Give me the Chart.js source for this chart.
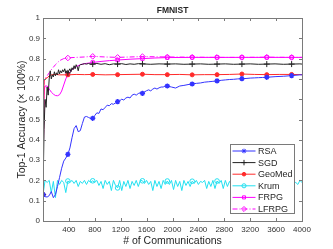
<!DOCTYPE html>
<html>
<head>
<meta charset="utf-8">
<script src="https://cdn.jsdelivr.net/npm/chart.js@4.4.1/dist/chart.umd.min.js"></script>
<style>
  html, body { margin: 0; padding: 0; background: #fff; }
  #wrap { width: 333px; height: 249px; }
</style>
</head>
<body>
<div id="wrap"><canvas id="accChart" width="333" height="249"></canvas></div>
<script>
// Tick labels
const xTicks = [400, 800, 1200, 1600, 2000, 2400, 2800, 3200, 3600, 4000];
const yTicks = [0, 0.1, 0.2, 0.3, 0.4, 0.5, 0.6, 0.7, 0.8, 0.9, 1];

// Communications where the markers sit
const markerX = [0, 384, 768, 1152, 1536, 1920, 2304, 2688, 3072, 3456, 3840];

// RSA
const rsaX = [0, 32, 64, 96, 128, 160, 192, 224, 256, 288, 320, 352, 384, 416, 448, 480, 512, 544, 576, 608,
  640, 672, 704, 736, 768, 800, 832, 864, 896, 928, 960, 992, 1024, 1056, 1088, 1120, 1152, 1184, 1216, 1248,
  1280, 1312, 1344, 1376, 1408, 1440, 1472, 1504, 1536, 1568, 1600, 1632, 1664, 1696, 1728, 1760, 1792, 1824,
  1856, 1888, 1920, 1984, 2048, 2112, 2176, 2240, 2304, 2368, 2432, 2496, 2560, 2624, 2688, 2752, 2816, 2880,
  2944, 3008, 3072, 3136, 3200, 3264, 3328, 3392, 3456, 3584, 3712, 3840, 3968, 4000];
const rsaY = [0.13, 0.12, 0.118, 0.125, 0.145, 0.115, 0.13, 0.17, 0.215, 0.26, 0.295, 0.31, 0.328, 0.36, 0.41, 0.455, 0.47, 0.44, 0.445, 0.48,
  0.512, 0.515, 0.51, 0.505, 0.506, 0.52, 0.533, 0.53, 0.552, 0.548, 0.56, 0.57, 0.568, 0.578, 0.575, 0.582, 0.588, 0.592, 0.6, 0.596,
  0.606, 0.61, 0.606, 0.62, 0.625, 0.62, 0.628, 0.632, 0.629, 0.636, 0.642, 0.646, 0.641, 0.65, 0.655, 0.65, 0.656, 0.66,
  0.66, 0.665, 0.665, 0.66, 0.655, 0.665, 0.668, 0.672, 0.675, 0.678, 0.68, 0.684, 0.686, 0.688, 0.69, 0.693, 0.695, 0.697,
  0.698, 0.7, 0.701, 0.702, 0.704, 0.705, 0.706, 0.707, 0.708, 0.711, 0.713, 0.716, 0.72, 0.72];

// SGD
const sgdX = [0, 16, 32, 48, 64, 80, 96, 112, 128, 144, 160, 176, 192, 208, 224, 240, 256, 272, 288, 304,
  320, 336, 352, 368, 384, 400, 416, 432, 448, 464, 480, 496, 512, 528, 544, 560, 576, 608, 640, 672,
  704, 736, 768, 832, 896, 960, 1024, 1088, 1152, 1216, 1280, 1344, 1408, 1472, 1536, 1664, 1792, 1920,
  2048, 2176, 2304, 2432, 2560, 2688, 2816, 2944, 3072, 3200, 3328, 3456, 3584, 3712, 3840, 3968, 4000];
const sgdY = [0.13, 0.45, 0.6, 0.56, 0.66, 0.62, 0.7, 0.74, 0.7, 0.72, 0.71, 0.735, 0.715, 0.73, 0.72, 0.745, 0.725, 0.74, 0.73, 0.745,
  0.735, 0.75, 0.73, 0.74, 0.73, 0.74, 0.75, 0.735, 0.755, 0.745, 0.765, 0.75, 0.77, 0.76, 0.74, 0.765, 0.77, 0.772, 0.775, 0.773,
  0.776, 0.772, 0.773, 0.776, 0.772, 0.775, 0.77, 0.774, 0.773, 0.775, 0.771, 0.774, 0.772, 0.775, 0.774, 0.772, 0.774, 0.773,
  0.774, 0.772, 0.773, 0.774, 0.772, 0.773, 0.774, 0.772, 0.773, 0.774, 0.772, 0.773, 0.774, 0.772, 0.773, 0.774, 0.773];

// GeoMed
const geoX = [0, 16, 32, 64, 96, 128, 192, 256, 384, 512, 640, 768, 960, 1152, 1344, 1536, 1728, 1920, 2112, 2304,
  2496, 2688, 2880, 3072, 3264, 3456, 3648, 3840, 4000];
const geoY = [0.13, 0.69, 0.7, 0.705, 0.715, 0.72, 0.722, 0.72, 0.72, 0.722, 0.721, 0.722, 0.72, 0.721, 0.722, 0.723, 0.721, 0.721, 0.722, 0.72,
  0.721, 0.721, 0.722, 0.724, 0.722, 0.721, 0.722, 0.722, 0.721];

// Krum, sampled every 32 communications from 0 to 4000
const krumY = [0.13, 0.2, 0.19, 0.2, 0.14, 0.195, 0.115, 0.2, 0.18, 0.2, 0.19, 0.14, 0.197, 0.19, 0.2, 0.185,
  0.2, 0.17, 0.195, 0.185, 0.2, 0.18, 0.2, 0.19, 0.198, 0.19, 0.2, 0.175, 0.195, 0.16, 0.2, 0.18,
  0.195, 0.15, 0.2, 0.175, 0.163, 0.2, 0.15, 0.195, 0.17, 0.2, 0.16, 0.195, 0.175, 0.2, 0.17, 0.2,
  0.198, 0.185, 0.2, 0.18, 0.195, 0.15, 0.2, 0.17, 0.195, 0.16, 0.2, 0.18, 0.197, 0.18, 0.2, 0.155,
  0.2, 0.17, 0.195, 0.15, 0.2, 0.175, 0.195, 0.17, 0.196, 0.185, 0.2, 0.18, 0.195, 0.19, 0.2, 0.16,
  0.195, 0.17, 0.2, 0.16, 0.197, 0.185, 0.2, 0.16, 0.2, 0.17, 0.195, 0.18, 0.2, 0.17, 0.195, 0.16,
  0.197, 0.18, 0.2, 0.17, 0.195, 0.16, 0.2, 0.18, 0.195, 0.17, 0.2, 0.165, 0.197, 0.18, 0.2, 0.17,
  0.195, 0.16, 0.2, 0.18, 0.195, 0.17, 0.2, 0.18, 0.196, 0.185, 0.19, 0.18, 0.2, 0.19];
const krumX = krumY.map((_, i) => i * 32);

// FRPG
const frpgX = [0, 16, 32, 64, 96, 128, 160, 192, 224, 256, 288, 320, 352, 384, 448, 512, 576, 640, 704, 768,
  896, 1024, 1152, 1344, 1536, 1728, 1920, 2304, 2688, 3072, 3456, 3840, 4000];
const frpgY = [0.13, 0.64, 0.665, 0.665, 0.65, 0.635, 0.625, 0.618, 0.617, 0.622, 0.64, 0.67, 0.7, 0.722, 0.745, 0.76, 0.77, 0.775, 0.778, 0.781,
  0.786, 0.79, 0.793, 0.797, 0.8, 0.803, 0.805, 0.806, 0.806, 0.806, 0.806, 0.806, 0.806];

// LFRPG
const lfrpgX = [0, 16, 32, 64, 96, 128, 192, 256, 320, 384, 448, 512, 640, 768, 960, 1152, 1536, 1920, 2304, 2688,
  3072, 3456, 3840, 4000];
const lfrpgY = [0.13, 0.69, 0.7, 0.715, 0.73, 0.745, 0.77, 0.79, 0.8, 0.803, 0.805, 0.806, 0.808, 0.811, 0.808, 0.806, 0.81, 0.808, 0.807, 0.806,
  0.806, 0.807, 0.806, 0.806];

const FONT = '"Liberation Sans", Arial, sans-serif';

const toPoints = (xs, ys) => xs.map((x, i) => ({ x, y: ys[i] }));
const atMarker = r => ctx => (ctx.raw && markerX.includes(ctx.raw.x) ? r : 0);

function series(label, xs, ys, color, style, r, extra) {
  return Object.assign({
    label,
    data: toPoints(xs, ys),
    borderColor: color,
    backgroundColor: 'rgba(0,0,0,0)',
    borderWidth: 1,
    tension: 0,
    pointStyle: style,
    markerSize: r,
    pointRadius: atMarker(r),
    pointBorderWidth: 1,
    pointBorderColor: color,
    pointBackgroundColor: 'rgba(0,0,0,0)'
  }, extra || {});
}

const datasets = [
  series('RSA', rsaX, rsaY, '#3333ff', 'star', 2.6, { pointBorderWidth: 1.4 }),
  series('SGD', sgdX, sgdY, '#222222', 'cross', 3),
  series('GeoMed', geoX, geoY, '#ff2a2a', 'circle', 2, { pointBackgroundColor: '#ff2a2a' }),
  series('Krum', krumX, krumY, '#22e0f0', 'circle', 2.3),
  series('FRPG', frpgX, frpgY, '#ff00ff', 'rect', 2.4),
  series('LFRPG', lfrpgX, lfrpgY, '#ff00ff', 'rectRot', 2.8, { borderDash: [5, 2, 1, 2] })
];

// Box round the plot with inward ticks, like the original figure
const frame = {
  id: 'frame',
  afterDatasetsDraw(chart) {
    const { ctx, chartArea: a, scales } = chart;
    ctx.save();
    ctx.strokeStyle = '#7a7a7a';
    ctx.lineWidth = 1;
    ctx.strokeRect(Math.round(a.left) + 0.5, Math.round(a.top) + 0.5,
      Math.round(a.right - a.left), Math.round(a.bottom - a.top));
    ctx.beginPath();
    xTicks.forEach(v => {
      const px = Math.round(scales.x.getPixelForValue(v)) + 0.5;
      ctx.moveTo(px, a.bottom); ctx.lineTo(px, a.bottom - 3);
      ctx.moveTo(px, a.top); ctx.lineTo(px, a.top + 3);
    });
    yTicks.forEach(v => {
      const py = Math.round(scales.y.getPixelForValue(v)) + 0.5;
      ctx.moveTo(a.left, py); ctx.lineTo(a.left + 3, py);
      ctx.moveTo(a.right, py); ctx.lineTo(a.right - 3, py);
    });
    ctx.stroke();
    ctx.restore();
  }
};

// Legend drawn inside the plot, bottom right
const insideLegend = {
  id: 'insideLegend',
  afterDraw(chart) {
    const { ctx, chartArea: a } = chart;
    const w = 64, h = 69;
    const x0 = Math.round(a.right - 8 - w) + 0.5;
    const y0 = Math.round(a.bottom - 8 - h) + 0.5;
    ctx.save();
    ctx.fillStyle = '#ffffff';
    ctx.fillRect(x0, y0, w, h);
    ctx.strokeStyle = '#7a7a7a';
    ctx.lineWidth = 1;
    ctx.strokeRect(x0, y0, w, h);
    ctx.font = '9px ' + FONT;
    ctx.textBaseline = 'middle';
    chart.data.datasets.forEach((ds, i) => {
      const y = y0 + 6.5 + i * 11.6;
      ctx.strokeStyle = ds.borderColor;
      ctx.lineWidth = 1;
      ctx.setLineDash(ds.borderDash || []);
      ctx.beginPath();
      ctx.moveTo(x0 + 2, y); ctx.lineTo(x0 + 25, y);
      ctx.stroke();
      ctx.setLineDash([]);
      ctx.fillStyle = ds.pointBackgroundColor;
      Chart.helpers.drawPoint(ctx, {
        pointStyle: ds.pointStyle, radius: ds.markerSize * 0.9, rotation: 0, borderWidth: ds.pointBorderWidth
      }, x0 + 13.5, y);
      ctx.fillStyle = '#262626';
      ctx.fillText(ds.label, x0 + 27.5, y + 0.5);
    });
    ctx.restore();
  }
};

new Chart(document.getElementById('accChart'), {
  type: 'line',
  data: { datasets },
  plugins: [frame, insideLegend],
  options: {
    responsive: false,
    animation: false,
    layout: { padding: { left: 0, right: 31, top: 0, bottom: 0 } },
    plugins: {
      legend: { display: false },
      tooltip: { enabled: false },
      title: {
        display: true,
        fullSize: false,
        text: 'FMNIST',
        color: '#262626',
        font: { family: FONT, size: 8.5, weight: 'bold' },
        padding: { top: 5.6, bottom: 2.2 }
      }
    },
    scales: {
      x: {
        type: 'linear',
        min: 0,
        max: 4000,
        afterBuildTicks: s => { s.ticks = xTicks.map(v => ({ value: v })); },
        afterFit: s => { s.height = 28; },
        grid: { display: false, drawTicks: false },
        border: { display: false },
        ticks: { padding: 4, color: '#333', autoSkip: false, maxRotation: 0,
          font: { family: FONT, size: 8 }, callback: v => String(v) },
        title: { display: true, text: '# of Communications', color: '#262626',
          font: { family: FONT, size: 10.5 }, padding: { top: 0, bottom: 1.7 } }
      },
      y: {
        type: 'linear',
        min: 0,
        max: 1,
        afterBuildTicks: s => { s.ticks = yTicks.map(v => ({ value: v })); },
        afterFit: s => { s.width = 43; },
        grid: { display: false, drawTicks: false },
        border: { display: false },
        ticks: { padding: 3, color: '#333', font: { family: FONT, size: 8 },
          callback: v => String(v) },
        title: { display: true, text: 'Top-1 Accuracy (× 100%)', color: '#262626',
          font: { family: FONT, size: 10.5 }, padding: { top: 15.7, bottom: 0 } }
      }
    }
  }
});
</script>
</body>
</html>
